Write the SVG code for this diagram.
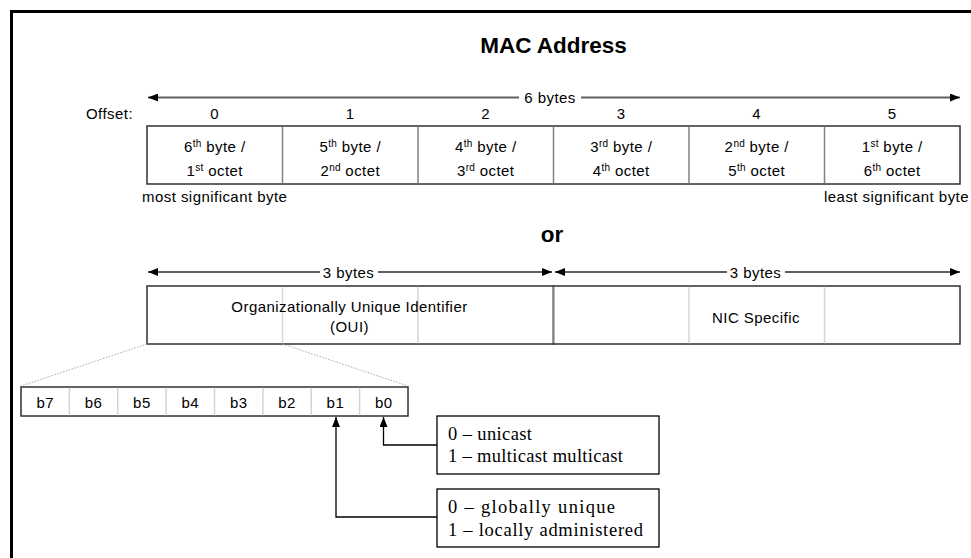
<svg xmlns="http://www.w3.org/2000/svg" width="971" height="558" viewBox="0 0 971 558">
  <style>
    .t { font-family: "Liberation Sans", Arial, sans-serif; font-size: 15px; letter-spacing: 0.45px; fill: #000; }
    .c { text-anchor: middle; }
    .sup { font-size: 10px; letter-spacing: 0.2px; }
    .h { font-family: "Liberation Sans", Arial, sans-serif; font-size: 22.5px; font-weight: bold; fill: #000; text-anchor: middle; }
    .serif { font-family: "Liberation Serif", "Times New Roman", serif; font-size: 18.5px; fill: #000; }
    .box { fill: #fff; stroke: #303030; stroke-width: 1.5; }
    .div { stroke: #808080; stroke-width: 1.5; }
    .lite { stroke: #d4d4d4; stroke-width: 1.5; }
    .dim { stroke: #606060; stroke-width: 2; fill: none; }
    .dot { stroke: #a8a8a8; stroke-width: 1; stroke-dasharray: 1.5 1.5; fill: none; }
    .wire { stroke: #000; stroke-width: 1.3; fill: none; }
  </style>
  <defs>
    <marker id="dimHead" markerUnits="userSpaceOnUse" viewBox="0 0 10 8" markerWidth="10" markerHeight="8" refX="10" refY="4" orient="auto-start-reverse">
      <path d="M0,0 L10,4 L0,8 z" fill="#000"/>
    </marker>
    <marker id="tip" markerUnits="userSpaceOnUse" viewBox="0 0 10 8" markerWidth="10" markerHeight="8" refX="10" refY="4" orient="auto">
      <path d="M0,0 L10,4 L0,8 z" fill="#000"/>
    </marker>
  </defs>

  <!-- page and frame -->
  <rect x="0" y="0" width="971" height="558" fill="#fff"/>
  <rect x="11.5" y="11.5" width="1000" height="600" fill="none" stroke="#000" stroke-width="3"/>

  <!-- headings -->
  <g id="title">
    <text class="h" x="553.5" y="53">MAC Address</text>
  </g>
  <g id="or-label">
    <text class="h" x="552" y="241.5">or</text>
  </g>

  <!-- offset row -->
  <g id="offsets">
    <text class="t" x="133" y="119" text-anchor="end">Offset:</text>
    <text class="t c" x="214.75" y="119">0</text>
    <text class="t c" x="350.25" y="119">1</text>
    <text class="t c" x="485.75" y="119">2</text>
    <text class="t c" x="621.25" y="119">3</text>
    <text class="t c" x="756.75" y="119">4</text>
    <text class="t c" x="892.25" y="119">5</text>
  </g>

  <!-- six byte row -->
  <g id="byte-row">
    <rect class="box" x="147" y="126" width="813" height="58"/>
    <line class="div" x1="282.5" y1="126.75" x2="282.5" y2="183.25"/>
    <line class="div" x1="418" y1="126.75" x2="418" y2="183.25"/>
    <line class="div" x1="553.5" y1="126.75" x2="553.5" y2="183.25"/>
    <line class="div" x1="689" y1="126.75" x2="689" y2="183.25"/>
    <line class="div" x1="824.5" y1="126.75" x2="824.5" y2="183.25"/>
  </g>
  <g id="byte-0">
    <text class="t c" x="214.75" y="152">6<tspan class="sup" dy="-5">th</tspan><tspan dy="5"> byte /</tspan></text>
    <text class="t c" x="214.75" y="175.5">1<tspan class="sup" dy="-5">st</tspan><tspan dy="5"> octet</tspan></text>
  </g>
  <g id="byte-1">
    <text class="t c" x="350.25" y="152">5<tspan class="sup" dy="-5">th</tspan><tspan dy="5"> byte /</tspan></text>
    <text class="t c" x="350.25" y="175.5">2<tspan class="sup" dy="-5">nd</tspan><tspan dy="5"> octet</tspan></text>
  </g>
  <g id="byte-2">
    <text class="t c" x="485.75" y="152">4<tspan class="sup" dy="-5">th</tspan><tspan dy="5"> byte /</tspan></text>
    <text class="t c" x="485.75" y="175.5">3<tspan class="sup" dy="-5">rd</tspan><tspan dy="5"> octet</tspan></text>
  </g>
  <g id="byte-3">
    <text class="t c" x="621.25" y="152">3<tspan class="sup" dy="-5">rd</tspan><tspan dy="5"> byte /</tspan></text>
    <text class="t c" x="621.25" y="175.5">4<tspan class="sup" dy="-5">th</tspan><tspan dy="5"> octet</tspan></text>
  </g>
  <g id="byte-4">
    <text class="t c" x="756.75" y="152">2<tspan class="sup" dy="-5">nd</tspan><tspan dy="5"> byte /</tspan></text>
    <text class="t c" x="756.75" y="175.5">5<tspan class="sup" dy="-5">th</tspan><tspan dy="5"> octet</tspan></text>
  </g>
  <g id="byte-5">
    <text class="t c" x="892.25" y="152">1<tspan class="sup" dy="-5">st</tspan><tspan dy="5"> byte /</tspan></text>
    <text class="t c" x="892.25" y="175.5">6<tspan class="sup" dy="-5">th</tspan><tspan dy="5"> octet</tspan></text>
  </g>
  <g id="significance">
    <text class="t" x="142" y="202">most significant byte</text>
    <text class="t" x="969" y="202" text-anchor="end">least significant byte</text>
  </g>

  <!-- OUI / NIC row -->
  <g id="oui">
    <rect class="box" x="147" y="286" width="406.5" height="58"/>
    <line class="lite" x1="282.5" y1="286.75" x2="282.5" y2="343.25"/>
    <line class="lite" x1="418" y1="286.75" x2="418" y2="343.25"/>
    <text class="t c" x="349.5" y="312">Organizationally Unique Identifier</text>
    <text class="t c" x="349.5" y="332">(OUI)</text>
  </g>
  <g id="nic">
    <rect class="box" x="553.5" y="286" width="406.5" height="58"/>
    <line class="lite" x1="689" y1="286.75" x2="689" y2="343.25"/>
    <line class="lite" x1="824.5" y1="286.75" x2="824.5" y2="343.25"/>
    <line class="div" x1="553.5" y1="286.75" x2="553.5" y2="343.25"/>
    <text class="t c" x="756" y="322.5">NIC Specific</text>
  </g>

  <!-- bits of the first octet -->
  <g id="bits">
    <rect class="box" x="21" y="387" width="387" height="29"/>
    <line class="lite" x1="69.4" y1="387.75" x2="69.4" y2="415.25"/>
    <line class="lite" x1="117.75" y1="387.75" x2="117.75" y2="415.25"/>
    <line class="lite" x1="166.1" y1="387.75" x2="166.1" y2="415.25"/>
    <line class="lite" x1="214.5" y1="387.75" x2="214.5" y2="415.25"/>
    <line class="lite" x1="262.9" y1="387.75" x2="262.9" y2="415.25"/>
    <line class="lite" x1="311.25" y1="387.75" x2="311.25" y2="415.25"/>
    <line class="lite" x1="359.6" y1="387.75" x2="359.6" y2="415.25"/>
    <text class="t c" x="45.2" y="408">b7</text>
    <text class="t c" x="93.6" y="408">b6</text>
    <text class="t c" x="141.9" y="408">b5</text>
    <text class="t c" x="190.3" y="408">b4</text>
    <text class="t c" x="238.7" y="408">b3</text>
    <text class="t c" x="287.1" y="408">b2</text>
    <text class="t c" x="335.4" y="408">b1</text>
    <text class="t c" x="383.8" y="408">b0</text>
  </g>

  <!-- bit meanings -->
  <g id="cast-note">
    <rect x="437" y="416" width="222" height="58" fill="#fff" stroke="#000" stroke-width="1.3"/>
    <text class="serif" x="448" y="440" textLength="84" lengthAdjust="spacing">0 – unicast</text>
    <text class="serif" x="448" y="462" textLength="175" lengthAdjust="spacing">1 – multicast multicast</text>
  </g>
  <g id="admin-note">
    <rect x="437" y="489" width="222" height="58" fill="#fff" stroke="#000" stroke-width="1.3"/>
    <text class="serif" x="448" y="513" textLength="167" lengthAdjust="spacing">0 – globally unique</text>
    <text class="serif" x="448" y="535.5" textLength="195" lengthAdjust="spacing">1 – locally administered</text>
  </g>

  <!-- connectors and dimension lines -->
  <g id="connectors">
    <line class="dim" x1="148" y1="97.5" x2="519" y2="97.5" marker-start="url(#dimHead)"/>
    <line class="dim" x1="581" y1="97.5" x2="960" y2="97.5" marker-end="url(#dimHead)"/>
    <text class="t c" x="550" y="103">6 bytes</text>

    <line class="dim" x1="148" y1="272" x2="320" y2="272" marker-start="url(#dimHead)"/>
    <line class="dim" x1="378" y1="272" x2="552" y2="272" marker-end="url(#dimHead)"/>
    <text class="t c" x="348.5" y="278">3 bytes</text>

    <line class="dim" x1="555" y1="272" x2="727" y2="272" marker-start="url(#dimHead)"/>
    <line class="dim" x1="785" y1="272" x2="960" y2="272" marker-end="url(#dimHead)"/>
    <text class="t c" x="755.5" y="278">3 bytes</text>

    <line class="dot" x1="147" y1="344" x2="21" y2="386"/>
    <line class="dot" x1="282.5" y1="344" x2="408" y2="386"/>

    <path class="wire" d="M437,445 H383.5 V417" marker-end="url(#tip)"/>
    <path class="wire" d="M437,517 H336 V417" marker-end="url(#tip)"/>
  </g>
</svg>
